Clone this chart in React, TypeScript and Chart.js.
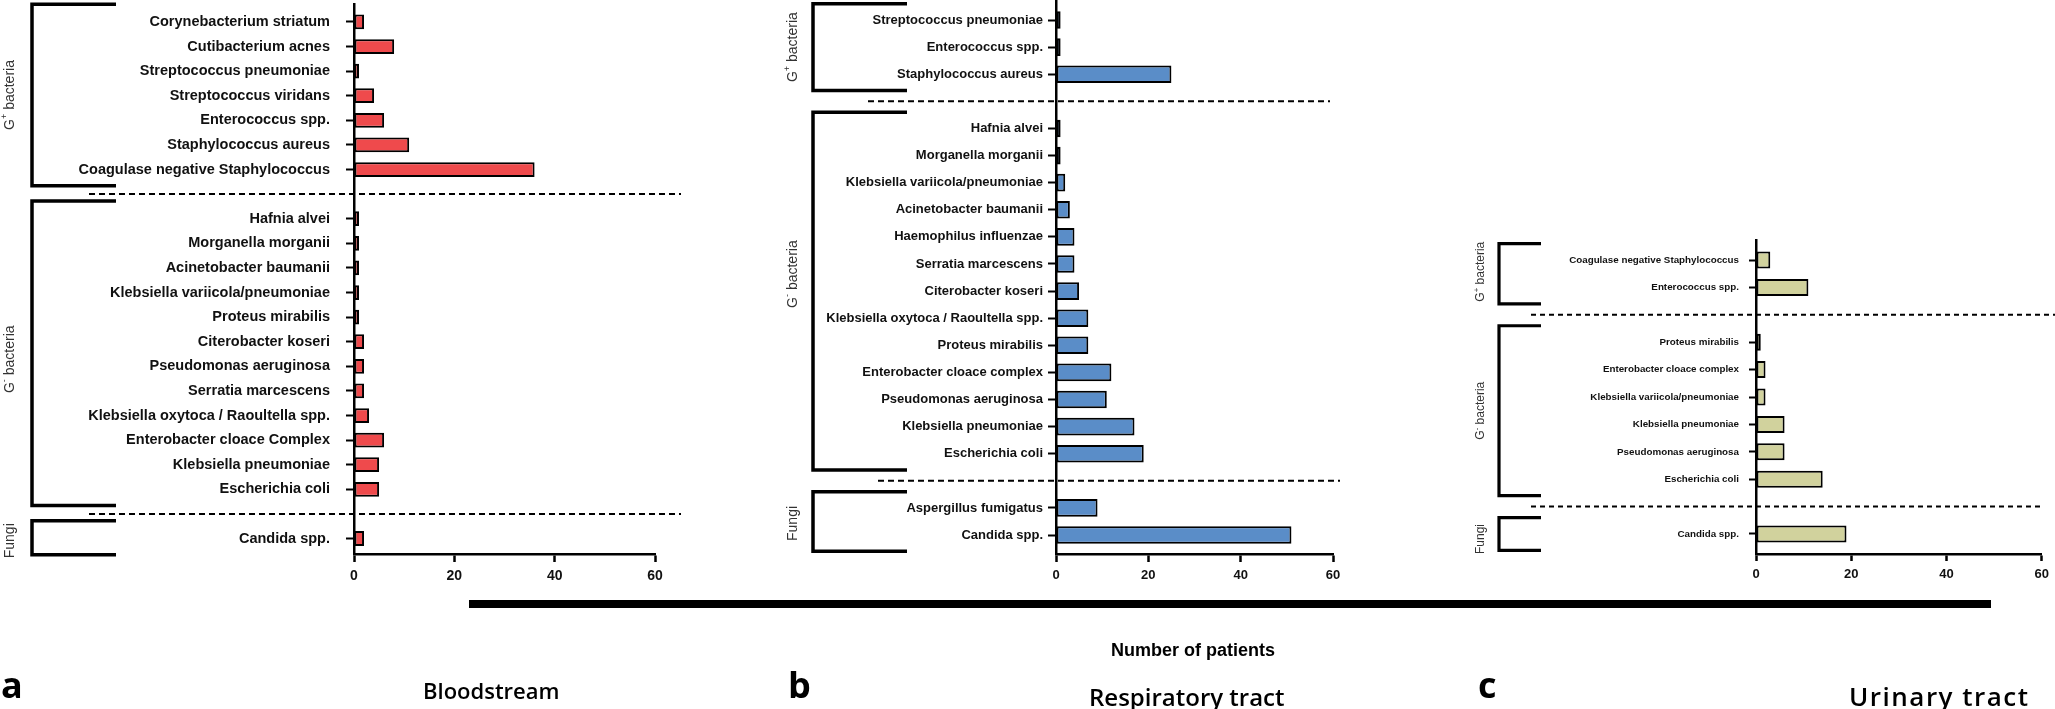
import React, { useEffect, useRef } from 'react';
import { Chart, registerables } from 'chart.js';

Chart.register(...registerables);

// ---------------- DATA ----------------
const xTicks = [0, 20, 40, 60];

// a: Bloodstream
const bloodGPosLabels = [
  'Corynebacterium striatum',
  'Cutibacterium acnes',
  'Streptococcus pneumoniae',
  'Streptococcus viridans',
  'Enterococcus spp.',
  'Staphylococcus aureus',
  'Coagulase negative Staphylococcus',
];
const bloodGPosValues = [2, 8, 1, 4, 6, 11, 36];
const bloodGNegLabels = [
  'Hafnia alvei',
  'Morganella morganii',
  'Acinetobacter baumanii',
  'Klebsiella variicola/pneumoniae',
  'Proteus mirabilis',
  'Citerobacter koseri',
  'Pseudomonas aeruginosa',
  'Serratia marcescens',
  'Klebsiella oxytoca / Raoultella spp.',
  'Enterobacter cloace Complex',
  'Klebsiella pneumoniae',
  'Escherichia coli',
];
const bloodGNegValues = [1, 1, 1, 1, 1, 2, 2, 2, 3, 6, 5, 5];
const bloodFungiLabels = ['Candida spp.'];
const bloodFungiValues = [2];

// b: Respiratory tract
const respGPosLabels = ['Streptococcus pneumoniae', 'Enterococcus spp.', 'Staphylococcus aureus'];
const respGPosValues = [1, 1, 25];
const respGNegLabels = [
  'Hafnia alvei',
  'Morganella morganii',
  'Klebsiella variicola/pneumoniae',
  'Acinetobacter baumanii',
  'Haemophilus influenzae',
  'Serratia marcescens',
  'Citerobacter koseri',
  'Klebsiella oxytoca / Raoultella spp.',
  'Proteus mirabilis',
  'Enterobacter cloace complex',
  'Pseudomonas aeruginosa',
  'Klebsiella pneumoniae',
  'Escherichia coli',
];
const respGNegValues = [1, 1, 2, 3, 4, 4, 5, 7, 7, 12, 11, 17, 19];
const respFungiLabels = ['Aspergillus fumigatus', 'Candida spp.'];
const respFungiValues = [9, 51];

// c: Urinary tract
const uriGPosLabels = ['Coagulase negative Staphylococcus', 'Enterococcus spp.'];
const uriGPosValues = [3, 11];
const uriGNegLabels = [
  'Proteus mirabilis',
  'Enterobacter cloace complex',
  'Klebsiella variicola/pneumoniae',
  'Klebsiella pneumoniae',
  'Pseudomonas aeruginosa',
  'Escherichia coli',
];
const uriGNegValues = [1, 2, 2, 6, 6, 14];
const uriFungiLabels = ['Candida spp.'];
const uriFungiValues = [19];

const axisTitle = 'Number of patients';
const panelLetters = ['a', 'b', 'c'];
const panelTitles = ['Bloodstream', 'Respiratory tract', 'Urinary tract'];

// ---------------- LAYOUT ----------------
const W = 2055;
const H = 709;
const OFF = 20;

type Kind = 'pos' | 'neg' | 'fungi';
type Group = { kind: Kind; labels: string[]; values: number[] };

const layoutA = {
  axisX: 354, right: 655, top: 0, bottom: 554, min: -0.7, max: 21.63,
  bracketX: 32, armX: 116, bracketW: 3.5, bTop: -0.72, bBot: 0.66,
  labelX: 10, labelSize: 14, labelDy: [0, 6, 3],
  dashes: [[89, 681], [89, 681]], dash: [6, 4],
  yFont: 14.5, yPad: 16, xFont: 14, xPad: 6, tickLen: 8, axisW: 2.5,
  barPct: 0.6, barBorder: 2,
};
const layoutB = {
  axisX: 1056, right: 1333, top: 0, bottom: 554, min: -0.74, max: 19.7,
  bracketX: 813, armX: 907, bracketW: 3.5, bTop: -0.6, bBot: 0.6,
  labelX: 793, labelSize: 14, labelDy: [0, -17, 2],
  dashes: [[868, 1330], [878, 1340]], dash: [6, 4],
  yFont: 13, yPad: 5, xFont: 13, xPad: 6, tickLen: 8, axisW: 2.5,
  barPct: 0.65, barBorder: 2,
};
const layoutC = {
  axisX: 1756, right: 2045, top: 240, bottom: 554, min: -0.73, max: 10.73,
  bracketX: 1499, armX: 1541, bracketW: 3.2, bTop: -0.6, bBot: 0.6,
  labelX: 1481, labelSize: 12, labelDy: [-2, 0, 5],
  dashes: [[1531, 2055], [1531, 2042]], dash: [5, 4],
  yFont: 9.8, yPad: 10, xFont: 13, xPad: 6, tickLen: 7, axisW: 2.5,
  barPct: 0.62, barBorder: 2,
};
type Layout = typeof layoutA;

function buildPanel(groups: Group[]) {
  const items: { label: string; value: number; idx: number }[] = [];
  const ranges: { first: number; last: number; kind: Kind }[] = [];
  const gaps: number[] = [];
  let idx = 0;
  groups.forEach((g, gi) => {
    if (gi > 0) {
      gaps.push(idx);
      idx++;
    }
    const first = idx;
    g.labels.forEach((l, i) => {
      items.push({ label: l, value: g.values[i], idx });
      idx++;
    });
    ranges.push({ first, last: idx - 1, kind: g.kind });
  });
  return { items, ranges, gaps };
}

function drawGroupLabel(ctx: CanvasRenderingContext2D, kind: Kind, cx: number, cy: number, size: number) {
  ctx.save();
  ctx.translate(cx, cy);
  ctx.rotate(-Math.PI / 2);
  ctx.fillStyle = '#333';
  ctx.textBaseline = 'middle';
  ctx.textAlign = 'left';
  const main = `${size}px "Liberation Sans", Arial, sans-serif`;
  const sup = `${size * 0.65}px "Liberation Sans", Arial, sans-serif`;
  if (kind === 'fungi') {
    ctx.font = main;
    const w = ctx.measureText('Fungi').width;
    ctx.fillText('Fungi', -w / 2, 0);
  } else {
    const s = kind === 'pos' ? '+' : '-';
    ctx.font = main;
    const wG = ctx.measureText('G').width;
    const wR = ctx.measureText(' bacteria').width;
    ctx.font = sup;
    const wS = ctx.measureText(s).width;
    const x0 = -(wG + wS + wR) / 2;
    ctx.font = main;
    ctx.fillText('G', x0, 0);
    ctx.font = sup;
    ctx.fillText(s, x0 + wG, -size * 0.38);
    ctx.font = main;
    ctx.fillText(' bacteria', x0 + wG + wS, 0);
  }
  ctx.restore();
}

function decorPlugin(P: ReturnType<typeof buildPanel>, L: Layout) {
  return {
    id: 'decor',
    afterDraw(chart: any) {
      const ctx: CanvasRenderingContext2D = chart.ctx;
      const y = chart.scales.y;
      ctx.save();
      ctx.strokeStyle = '#000';
      ctx.lineWidth = 2;
      ctx.setLineDash(L.dash);
      P.gaps.forEach((g, i) => {
        const py = y.getPixelForValue(g);
        const d = L.dashes[i];
        ctx.beginPath();
        ctx.moveTo(d[0], py);
        ctx.lineTo(d[1], py);
        ctx.stroke();
      });
      ctx.setLineDash([]);
      ctx.lineWidth = L.bracketW;
      ctx.lineJoin = 'miter';
      ctx.lineCap = 'butt';
      P.ranges.forEach((r, i) => {
        const top = y.getPixelForValue(r.first + L.bTop);
        const bot = y.getPixelForValue(r.last + L.bBot);
        ctx.beginPath();
        ctx.moveTo(L.armX, top);
        ctx.lineTo(L.bracketX, top);
        ctx.lineTo(L.bracketX, bot);
        ctx.lineTo(L.armX, bot);
        ctx.stroke();
        drawGroupLabel(ctx, r.kind, L.labelX, (top + bot) / 2 + L.labelDy[i], L.labelSize);
      });
      ctx.restore();
    },
  };
}

function makeConfig(groups: Group[], L: Layout, color: string): any {
  const P = buildPanel(groups);
  const labelAt: Record<number, string> = {};
  P.items.forEach((it) => (labelAt[it.idx] = it.label));
  const fam = '"Liberation Sans", Arial, sans-serif';
  return {
    type: 'bar',
    data: {
      datasets: [
        {
          data: P.items.map((it) => ({ x: it.value, y: it.idx })),
          backgroundColor: color,
          borderColor: '#000',
          borderWidth: L.barBorder,
          borderSkipped: false,
          barPercentage: L.barPct,
          categoryPercentage: 1,
        },
      ],
    },
    options: {
      animation: false,
      responsive: false,
      events: [],
      indexAxis: 'y',
      layout: { padding: { left: 0, top: OFF + L.top, right: W - L.right, bottom: 0 } },
      plugins: { legend: { display: false }, tooltip: { enabled: false } },
      scales: {
        x: {
          type: 'linear',
          position: 'bottom',
          min: 0,
          max: 60,
          bounds: 'data',
          offset: false,
          afterBuildTicks: (s: any) => {
            s.ticks = xTicks.map((v) => ({ value: v }));
          },
          afterFit: (s: any) => {
            s.height = H - L.bottom;
          },
          ticks: {
            font: { family: fam, weight: 'bold', size: L.xFont },
            color: '#111',
            padding: L.xPad,
            autoSkip: false,
            maxRotation: 0,
          },
          grid: { offset: false, drawOnChartArea: false, drawTicks: true, tickLength: L.tickLen, tickWidth: L.axisW, tickColor: '#000' },
          border: { display: true, color: '#000', width: L.axisW },
        },
        y: {
          type: 'linear',
          position: 'left',
          reverse: true,
          min: L.min,
          max: L.max,
          bounds: 'data',
          offset: false,
          afterBuildTicks: (s: any) => {
            s.ticks = P.items.map((it) => ({ value: it.idx }));
          },
          afterFit: (s: any) => {
            s.width = L.axisX;
          },
          ticks: {
            callback: (v: any) => labelAt[v] ?? '',
            font: { family: fam, weight: 'bold', size: L.yFont },
            color: '#111',
            padding: L.yPad,
            autoSkip: false,
          },
          grid: { offset: false, drawOnChartArea: false, drawTicks: true, tickLength: L.tickLen, tickWidth: 2, tickColor: '#000' },
          border: { display: true, color: '#000', width: L.axisW },
        },
      },
    },
    plugins: [decorPlugin(P, L)],
  };
}

const bloodGroups: Group[] = [
  { kind: 'pos', labels: bloodGPosLabels, values: bloodGPosValues },
  { kind: 'neg', labels: bloodGNegLabels, values: bloodGNegValues },
  { kind: 'fungi', labels: bloodFungiLabels, values: bloodFungiValues },
];
const respGroups: Group[] = [
  { kind: 'pos', labels: respGPosLabels, values: respGPosValues },
  { kind: 'neg', labels: respGNegLabels, values: respGNegValues },
  { kind: 'fungi', labels: respFungiLabels, values: respFungiValues },
];
const uriGroups: Group[] = [
  { kind: 'pos', labels: uriGPosLabels, values: uriGPosValues },
  { kind: 'neg', labels: uriGNegLabels, values: uriGNegValues },
  { kind: 'fungi', labels: uriFungiLabels, values: uriFungiValues },
];

const canvasStyle: React.CSSProperties = { position: 'absolute', left: 0, top: -OFF, width: W, height: H + OFF };

function txt(text: string, left: number, baseline: number, size: number, weight: number, family: string, asc: number, extra?: React.CSSProperties) {
  return (
    <div
      style={{
        position: 'absolute',
        left,
        top: baseline - asc * size,
        fontSize: size,
        lineHeight: 1,
        fontWeight: weight,
        fontFamily: family,
        color: '#000',
        whiteSpace: 'nowrap',
        ...extra,
      }}
    >
      {text}
    </div>
  );
}

export default function App() {
  const refA = useRef<HTMLCanvasElement>(null);
  const refB = useRef<HTMLCanvasElement>(null);
  const refC = useRef<HTMLCanvasElement>(null);

  useEffect(() => {
    document.body.style.margin = '0';
    const charts = [
      new Chart(refA.current!, makeConfig(bloodGroups, layoutA, '#EF4A4C')),
      new Chart(refB.current!, makeConfig(respGroups, layoutB, '#5A8DC8')),
      new Chart(refC.current!, makeConfig(uriGroups, layoutC, '#D1D29D')),
    ];
    return () => charts.forEach((c) => c.destroy());
  }, []);

  const os = '"Open Sans", "Noto Sans", sans-serif';
  const ls = '"Liberation Sans", Arial, sans-serif';

  return (
    <div style={{ position: 'relative', width: W, height: H, overflow: 'hidden', background: '#fff' }}>
      <canvas ref={refA} width={W} height={H + OFF} style={canvasStyle} />
      <canvas ref={refB} width={W} height={H + OFF} style={canvasStyle} />
      <canvas ref={refC} width={W} height={H + OFF} style={canvasStyle} />
      <div style={{ position: 'absolute', left: 469, top: 600, width: 1522, height: 8, background: '#000' }} />
      {txt(axisTitle, 1193, 656, 18, 700, ls, 0.847, { transform: 'translateX(-50%)' })}
      {txt(panelLetters[0], 1, 699, 36, 700, os, 0.888)}
      {txt(panelTitles[0], 423, 699, 22, 600, os, 0.888)}
      {txt(panelLetters[1], 788, 699, 36, 700, os, 0.888)}
      {txt(panelTitles[1], 1089, 706, 24, 600, os, 0.888)}
      {txt(panelLetters[2], 1478, 699, 36, 700, os, 0.888)}
      {txt(panelTitles[2], 1849, 706, 26, 600, os, 0.888, { letterSpacing: 1.5 })}
    </div>
  );
}
